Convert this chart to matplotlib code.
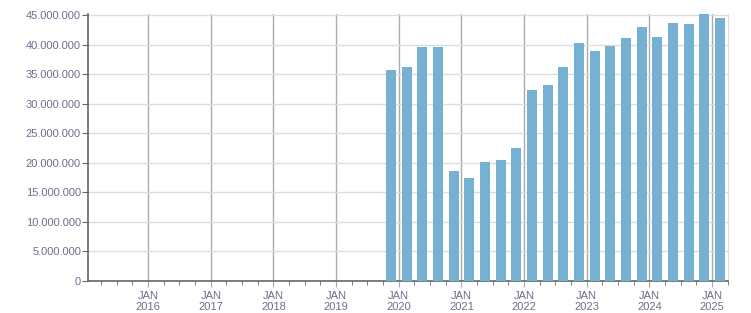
import numpy as np
import matplotlib.pyplot as plt
from matplotlib.ticker import FuncFormatter, MultipleLocator

# quarterly values, Q4 2019 .. Q1 2025
quarters = ['2019Q4', '2020Q1', '2020Q2', '2020Q3', '2020Q4', '2021Q1', '2021Q2', '2021Q3',
            '2021Q4', '2022Q1', '2022Q2', '2022Q3', '2022Q4', '2023Q1', '2023Q2', '2023Q3',
            '2023Q4', '2024Q1', '2024Q2', '2024Q3', '2024Q4', '2025Q1']
values = [35.7, 36.3, 39.6, 39.7, 18.7, 17.5, 20.2, 20.5,
          22.6, 32.3, 33.3, 36.2, 40.4, 38.9, 39.9, 41.1,
          43.0, 41.4, 43.8, 43.6, 45.2, 44.5]
years = list(range(2016, 2026))

# bar centers at middle of each quarter (decimal year)
x = [int(q[:4]) + (int(q[-1]) - 1) * 0.25 + 0.125 for q in quarters]
y = np.array(values) * 1e6

fig = plt.figure(figsize=(7.51, 3.13), dpi=100)
ax = fig.add_axes([88 / 751, 32 / 313, 640 / 751, 267 / 313])

ax.bar(x, y, width=0.16, color='#76b0d3', zorder=3)

ax.set_xlim(2015.04, 2025.255)
ax.set_ylim(0, 45.25e6)

ax.set_yticks(np.arange(0, 45e6 + 1, 5e6))
ax.yaxis.set_major_formatter(FuncFormatter(lambda v, p: f'{int(v):,}'.replace(',', '.')))
ax.set_xticks(years)
ax.set_xticklabels([f'JAN\n{yr}' for yr in years])
ax.xaxis.set_minor_locator(MultipleLocator(0.25))

ax.grid(axis='y', color='#dddddd', linewidth=1, zorder=0)
ax.grid(axis='x', which='major', color='#aaaaaa', linewidth=1, zorder=1)

for s in ['left', 'bottom']:
    ax.spines[s].set_color('#666666')
    ax.spines[s].set_linewidth(1.2)
ax.spines['top'].set_visible(False)
ax.spines['right'].set_color('#dddddd')

lab_color = '#6e6e8e'
ax.tick_params(axis='y', colors='#666666', labelcolor=lab_color, length=4, labelsize=8, pad=1)
ax.tick_params(axis='x', which='major', colors='#aaaaaa', labelcolor=lab_color, length=4,
               labelsize=8, pad=3)
ax.tick_params(axis='x', which='minor', colors='#666666', length=3)
for lab in ax.get_xticklabels() + ax.get_yticklabels():
    lab.set_fontfamily('Liberation Sans')
for lab in ax.get_xticklabels():
    lab.set_linespacing(1.2)

plt.savefig('out.png', dpi=100)
